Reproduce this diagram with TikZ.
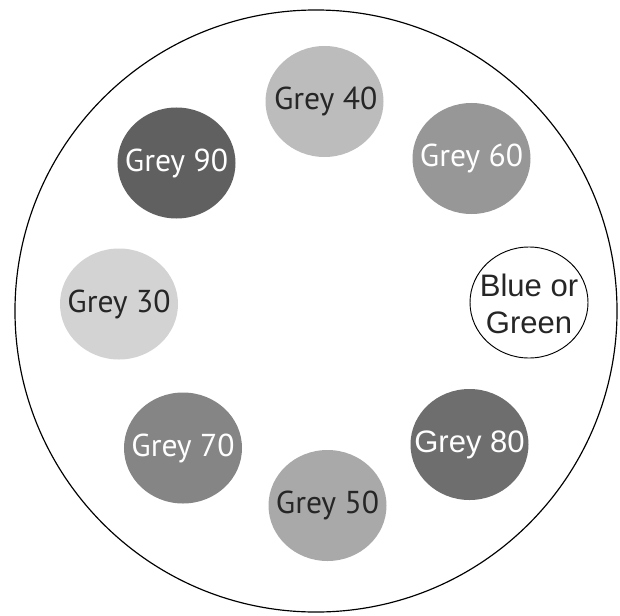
\documentclass[tikz,border=0pt]{standalone}
\usepackage{fontspec}
\usetikzlibrary{shapes.geometric}
\newfontfamily\ptsans{PT Sans}
\newfontfamily\arialf{Liberation Sans}
\definecolor{g30}{HTML}{D3D3D3}
\definecolor{g40}{HTML}{BCBCBC}
\definecolor{g50}{HTML}{A9A9A9}
\definecolor{g60}{HTML}{979797}
\definecolor{g70}{HTML}{858585}
\definecolor{g80}{HTML}{6E6E6E}
\definecolor{g90}{HTML}{606060}
\definecolor{darktxt}{HTML}{262626}
\tikzset{
  disc/.style={ellipse, inner sep=0pt, minimum width=3.54cm, minimum height=3.33cm},
  lblos/.style={font=\ptsans\fontsize{27}{30}\selectfont, inner sep=0pt},
  lblar/.style={font=\arialf\fontsize{26.5}{32}\selectfont, inner sep=0pt, align=center},
}
\begin{document}
\begin{tikzpicture}[x=0.03cm, y=-0.03cm]
\useasboundingbox (0,0) rectangle (620,615);
\node[draw=black, line width=1pt, circle, inner sep=0pt, minimum size=18.06cm] (outer) at (316,311) {};
% discs
\node[disc, fill=g40] (d40) at (324.5,101.5) {};
\node[disc, fill=g60] (d60) at (471.5,158.5) {};
\node[disc, draw=black, line width=0.8pt, fill=white] (dbg) at (529,302.5) {};
\node[disc, fill=g80] (d80) at (469.5,444.5) {};
\node[disc, fill=g50] (d50) at (327.5,505.5) {};
\node[disc, fill=g70] (d70) at (183,448) {};
\node[disc, fill=g30] (d30) at (119,304) {};
\node[disc, fill=g90] (d90) at (176.5,163) {};
% labels
\node[lblos, text=darktxt] (t40) at ([xshift=1pt]d40.center) {Grey 40};
\node[lblos, text=white] (t60) at (d60.center) {Grey 60};
\node[lblar, text=darktxt] (tbg) at ([yshift=-1pt]dbg.center) {Blue or\\Green};
\node[lblar, text=white] (t80) at (d80.center) {Grey 80};
\node[lblos, text=darktxt] (t50) at (d50.center) {Grey 50};
\node[lblos, text=white] (t70) at (d70.center) {Grey 70};
\node[lblos, text=darktxt] (t30) at (d30.center) {Grey 30};
\node[lblos, text=white] (t90) at (d90.center) {Grey 90};
\end{tikzpicture}
\end{document}
